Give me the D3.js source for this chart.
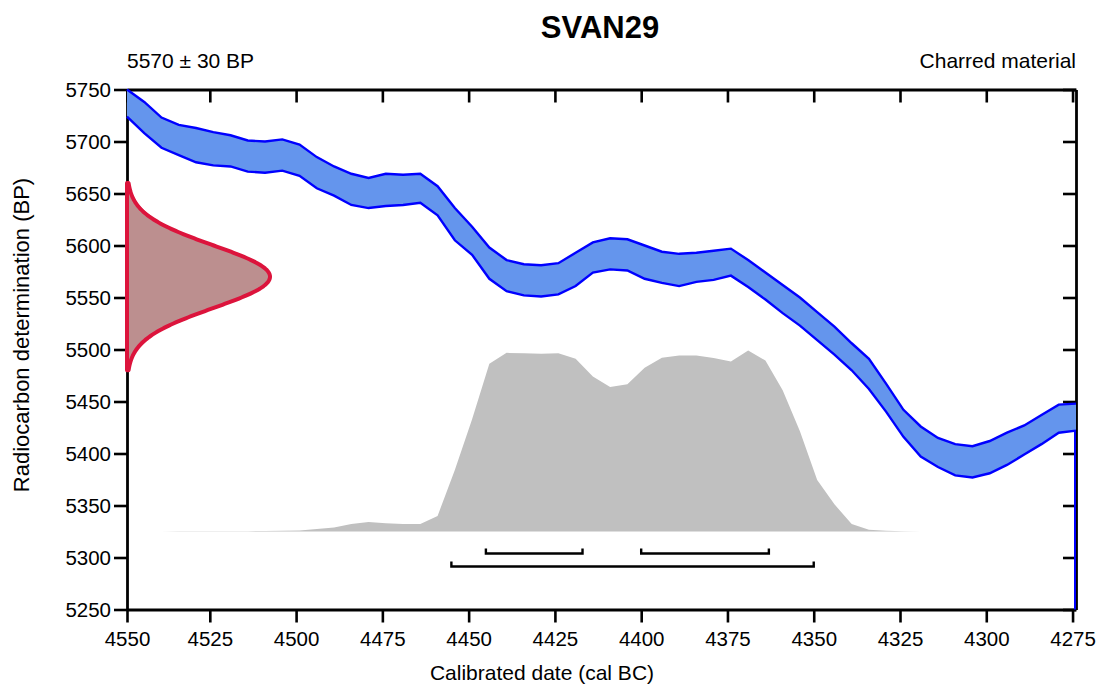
<!DOCTYPE html>
<html>
<head>
<meta charset="utf-8">
<script src="https://cdn.jsdelivr.net/npm/d3@7"></script>
<style>
  body { margin: 0; background: #fff; }
  svg { display: block; font-family: "Liberation Sans", Arial, sans-serif; }
</style>
</head>
<body>
<script>
var svgWidth = 1098;
var svgHeight = 686;

// calibration curve (IntCal, 5 yr grid), cal BC
var calYears = [4549, 4544, 4539, 4534, 4529, 4524, 4519, 4514, 4509, 4504,
  4499, 4494, 4489, 4484, 4479, 4474, 4469, 4464, 4459, 4454,
  4449, 4444, 4439, 4434, 4429, 4424, 4419, 4414, 4409, 4404,
  4399, 4394, 4389, 4384, 4379, 4374, 4369, 4364, 4359, 4354,
  4349, 4344, 4339, 4334, 4329, 4324, 4319, 4314, 4309, 4304,
  4299, 4294, 4289, 4284, 4279, 4274];

var curveHi = [5750, 5738, 5723, 5716, 5713, 5709, 5706, 5701, 5700, 5702,
  5697, 5685, 5676, 5669, 5665, 5669, 5668, 5669, 5657, 5636,
  5618, 5598, 5586, 5582, 5581, 5583, 5593, 5603, 5607, 5606,
  5600, 5594, 5592, 5593, 5595, 5597, 5586, 5574, 5562, 5550,
  5536, 5522, 5506, 5491, 5467, 5442, 5426, 5415, 5409, 5407,
  5412, 5420, 5427, 5437, 5447, 5448];

var curveLo = [5724, 5708, 5694, 5687, 5680, 5677, 5676, 5671, 5670, 5672,
  5667, 5655, 5648, 5639, 5636, 5638, 5639, 5641, 5629, 5605,
  5591, 5568, 5556, 5552, 5551, 5553, 5561, 5574, 5577, 5576,
  5568, 5564, 5561, 5565, 5567, 5571, 5560, 5548, 5535, 5523,
  5509, 5495, 5480, 5462, 5440, 5416, 5397, 5387, 5379, 5377,
  5381, 5389, 5399, 5409, 5420, 5422];

// calibrated probability (relative, max = 100)
var calProb = [0, 0.03, 0.05, 0.07, 0.09, 0.12, 0.15, 0.2, 0.25, 0.35,
  0.55, 1.4, 2.2, 4.2, 5.3, 4.6, 4.2, 4.1, 8.6, 34,
  62, 92.7, 98.7, 98.5, 98.2, 98.5, 95.4, 85.7, 79.8, 81.3,
  90.5, 96, 97.2, 97.2, 95.8, 93.9, 100, 94.5, 78, 55.4,
  28.5, 15, 4.2, 0.9, 0.4, 0.1, 0.02, 0, 0, 0,
  0, 0, 0, 0, 0, 0];

// determination
var sampleName = "SVAN29";
var bpMean = 5570;
var bpError = 30;
var material = "Charred material";

// hpd ranges (cal BC)
var range68 = [[4445, 4417], [4400, 4363]];
var range95 = [[4455, 4350]];

var xTicks = [4550, 4525, 4500, 4475, 4450, 4425, 4400, 4375, 4350, 4325, 4300, 4275];
var yTicks = [5250, 5300, 5350, 5400, 5450, 5500, 5550, 5600, 5650, 5700, 5750];

var probBase = 5325;

var margin = { top: 89.5, right: 22, bottom: 76.5, left: 127 };
var width = svgWidth - margin.left - margin.right;
var height = svgHeight - margin.top - margin.bottom;

var svg = d3.select("body")
  .append("svg")
  .attr("width", svgWidth)
  .attr("height", svgHeight);

var chartGroup = svg.append("g")
  .attr("transform", `translate(${margin.left}, ${margin.top})`);

var xScale = d3.scaleLinear()
  .domain([4549, 4274])
  .range([0, width])
  .clamp(true);

var yScale = d3.scaleLinear()
  .domain([5250, 5750])
  .range([height, 0]);

// axes (frame)
function styleAxis(g) {
  g.select(".domain").attr("stroke", "#000").attr("stroke-width", 2.8);
  g.selectAll(".tick line").attr("stroke", "#000").attr("stroke-width", 2.6);
  g.selectAll(".tick text")
    .attr("fill", "#000")
    .style("font-size", "20.5px")
    .style("font-family", "'Liberation Sans', Arial, sans-serif");
}

chartGroup.append("g")
  .attr("transform", `translate(0, ${height})`)
  .call(d3.axisBottom(xScale).tickValues(xTicks).tickSize(13).tickSizeOuter(0).tickPadding(9).tickFormat(d3.format("d")))
  .call(styleAxis);

chartGroup.append("g")
  .call(d3.axisTop(xScale).tickValues(xTicks).tickSize(-13).tickSizeOuter(0).tickFormat(""))
  .call(styleAxis);

chartGroup.append("g")
  .call(d3.axisLeft(yScale).tickValues(yTicks).tickSize(13).tickSizeOuter(0).tickPadding(3).tickFormat(d3.format("d")))
  .call(styleAxis);

chartGroup.append("g")
  .attr("transform", `translate(${width}, 0)`)
  .call(d3.axisRight(yScale).tickValues(yTicks).tickSize(-13).tickSizeOuter(0).tickFormat(""))
  .call(styleAxis);

// calibrated distribution
var probScale = d3.scaleLinear()
  .domain([0, 100])
  .range([yScale(probBase), yScale(probBase) - 181]);

var probData = calYears.map((yr, i) => ({ yr: yr, p: calProb[i] }));

chartGroup.append("path")
  .datum(probData)
  .attr("fill", "#c0c0c0")
  .attr("d", d3.area()
    .x(d => xScale(d.yr))
    .y0(probScale(0))
    .y1(d => probScale(d.p)));

// calibration curve band
var curveData = calYears.map((yr, i) => ({ yr: yr, hi: curveHi[i], lo: curveLo[i] }));

chartGroup.append("path")
  .datum(curveData)
  .attr("fill", "#6495ed")
  .attr("d", d3.area()
    .x(d => xScale(d.yr))
    .y0(d => yScale(d.lo))
    .y1(d => yScale(d.hi)));

var hiLine = d3.line().x(d => xScale(d.yr)).y(d => yScale(d.hi));
var loLine = d3.line().x(d => xScale(d.yr)).y(d => yScale(d.lo));

chartGroup.append("path")
  .datum(curveData)
  .attr("fill", "none")
  .attr("stroke", "#0000ff")
  .attr("stroke-width", 2.4)
  .attr("d", hiLine);

chartGroup.append("path")
  .datum(curveData)
  .attr("fill", "none")
  .attr("stroke", "#0000ff")
  .attr("stroke-width", 2.4)
  .attr("d", loLine);

// edge of curve band running down the right frame
var lastPt = curveData[curveData.length - 1];
chartGroup.append("line")
  .attr("x1", xScale(lastPt.yr) - 1)
  .attr("x2", xScale(lastPt.yr) - 1)
  .attr("y1", yScale(lastPt.lo))
  .attr("y2", yScale(5250))
  .attr("stroke", "#0000ff")
  .attr("stroke-width", 2);

// radiocarbon determination (normal, +-3 sigma)
var bpValues = d3.range(bpMean + 3 * bpError, bpMean - 3 * bpError - 0.5, -1);
var dens = bpValues.map(bp => ({ bp: bp, g: Math.exp(-0.5 * Math.pow((bp - bpMean) / bpError, 2)) }));

var densScale = d3.scaleLinear().domain([0, 1]).range([0, 143]);

var redPts = dens.map(d => [densScale(d.g), yScale(d.bp)]);
redPts.push([densScale(0), yScale(bpMean - 3 * bpError)]);
redPts.unshift([densScale(0), yScale(bpMean + 3 * bpError)]);

chartGroup.append("path")
  .attr("d", d3.line()(redPts) + "Z")
  .attr("fill", "#bc8f8f")
  .attr("stroke", "#dc143c")
  .attr("stroke-width", 4)
  .attr("stroke-linejoin", "round");

// hpd brackets
function drawBrackets(ranges, offset) {
  var yy = probScale(0) + offset;
  ranges.forEach(function(r) {
    var x1 = xScale(r[0]);
    var x2 = xScale(r[1]);
    chartGroup.append("path")
      .attr("d", `M${x1},${yy - 5}V${yy}H${x2}V${yy - 5}`)
      .attr("fill", "none")
      .attr("stroke", "#000")
      .attr("stroke-width", 2.4);
  });
}
drawBrackets(range68, 22);
drawBrackets(range95, 35);

// labels
svg.append("text")
  .attr("x", 600)
  .attr("y", 38)
  .attr("text-anchor", "middle")
  .style("font-size", "31px")
  .style("font-weight", "bold")
  .text(sampleName);

svg.append("text")
  .attr("x", margin.left)
  .attr("y", 68)
  .style("font-size", "21px")
  .text(`${bpMean} \u00b1 ${bpError} BP`);

svg.append("text")
  .attr("x", margin.left + width)
  .attr("y", 68)
  .attr("text-anchor", "end")
  .style("font-size", "21px")
  .text(material);

svg.append("text")
  .attr("x", 542)
  .attr("y", 680)
  .attr("text-anchor", "middle")
  .style("font-size", "21px")
  .text("Calibrated date (cal BC)");

svg.append("text")
  .attr("transform", "translate(29, 335) rotate(-90)")
  .attr("text-anchor", "middle")
  .style("font-size", "22px")
  .text("Radiocarbon determination (BP)");
</script>
</body>
</html>
